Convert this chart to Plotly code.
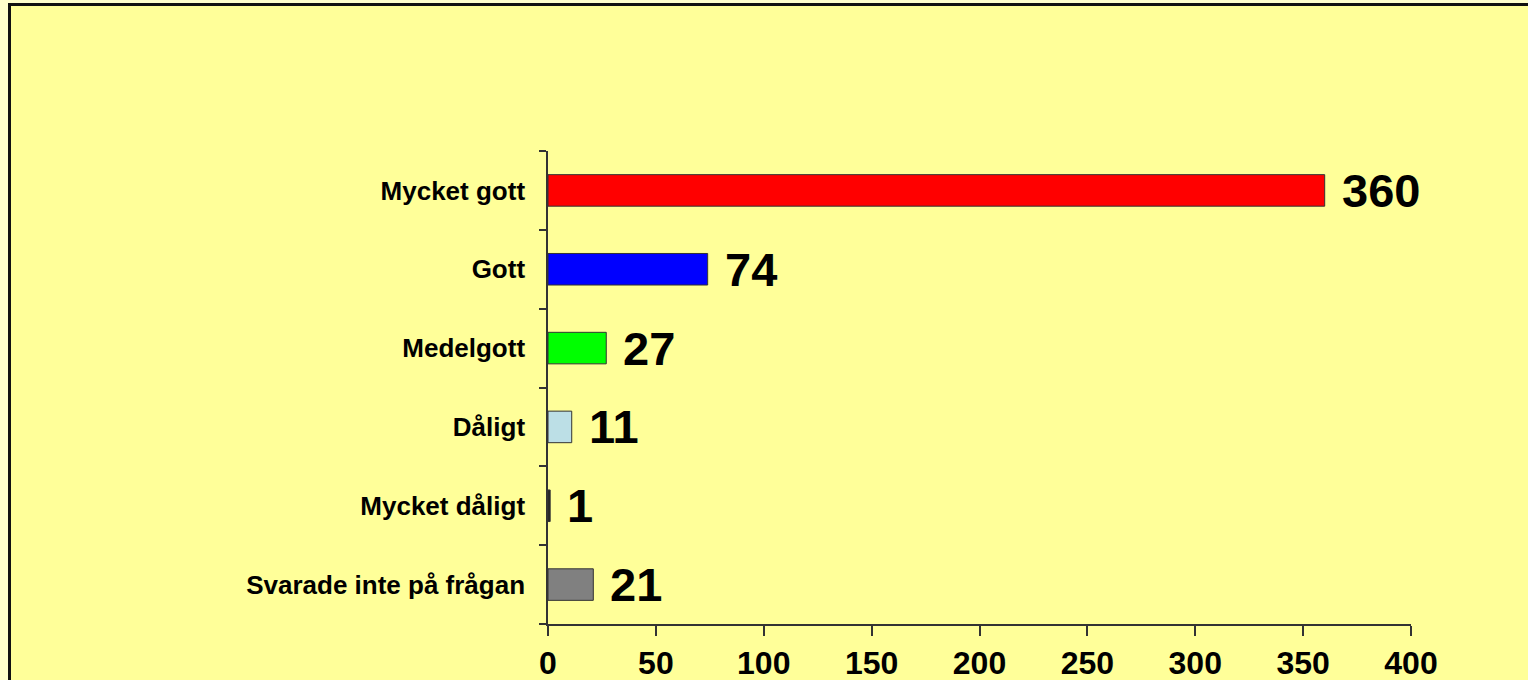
import plotly.graph_objects as go

categories = ["Mycket gott", "Gott", "Medelgott", "Dåligt", "Mycket dåligt", "Svarade inte på frågan"]
values = [360, 74, 27, 11, 1, 21]
colors = ["#FF0000", "#0000FF", "#00FF00", "#BCDFE6", "#202020", "#808080"]
x_ticks = [0, 50, 100, 150, 200, 250, 300, 350, 400]

W, H = 1528, 680
L, R, T, B = 548, 1411, 151, 624
pw, ph = R - L, B - T

def px_x(p):
    return (p - L) / pw

def px_y(p):
    return (B - p) / ph

fig = go.Figure()
fig.add_trace(go.Bar(
    y=categories, x=values, orientation="h",
    marker=dict(color=colors, line=dict(color="#333333", width=1)),
    width=0.4, showlegend=False, hoverinfo="skip",
))

for c, v in zip(categories, values):
    fig.add_annotation(x=v, y=c, text=str(v), showarrow=False, xanchor="left",
                       yanchor="middle", xshift=15,
                       font=dict(family="Liberation Sans, Arial", size=47, color="black",
                                 weight="bold"))

fig.add_shape(type="rect", xref="paper", yref="paper",
              x0=px_x(9.5), x1=px_x(1540), y0=px_y(4.5), y1=px_y(700),
              line=dict(color="#111111", width=3), fillcolor="#FFFF99", layer="below")

fig.update_layout(
    width=W, height=H,
    margin=dict(l=L, r=W - R, t=T, b=H - B, pad=0, autoexpand=False),
    paper_bgcolor="#FFFFCC", plot_bgcolor="rgba(0,0,0,0)",
    font=dict(family="Liberation Sans, Arial", color="black"),
    bargap=0.6,
    xaxis=dict(range=[0, 400], tickvals=x_ticks, ticktext=[str(t) for t in x_ticks],
               automargin=False,
               showgrid=False, zeroline=False, showline=True, linecolor="#333333", linewidth=1.5,
               ticks="outside", ticklen=10, tickcolor="#333333", tickwidth=1.5,
               tickfont=dict(size=32, family="Liberation Sans, Arial", weight="bold"),
               fixedrange=True),
    yaxis=dict(categoryorder="array", categoryarray=categories[::-1],
               automargin=False,
               showgrid=False, zeroline=False, showline=True, linecolor="#333333", linewidth=1.5,
               ticks="outside", ticklen=7, tickcolor="#333333", tickwidth=1.5,
               tickson="boundaries", ticklabelstandoff=16,
               tickfont=dict(size=26, family="Liberation Sans, Arial", weight="bold"),
               fixedrange=True),
)

fig.write_html("out.html", config={"displayModeBar": False},
               post_script="document.body.style.margin='0';document.body.style.overflow='hidden';document.body.style.background='#FFFFCC';")
